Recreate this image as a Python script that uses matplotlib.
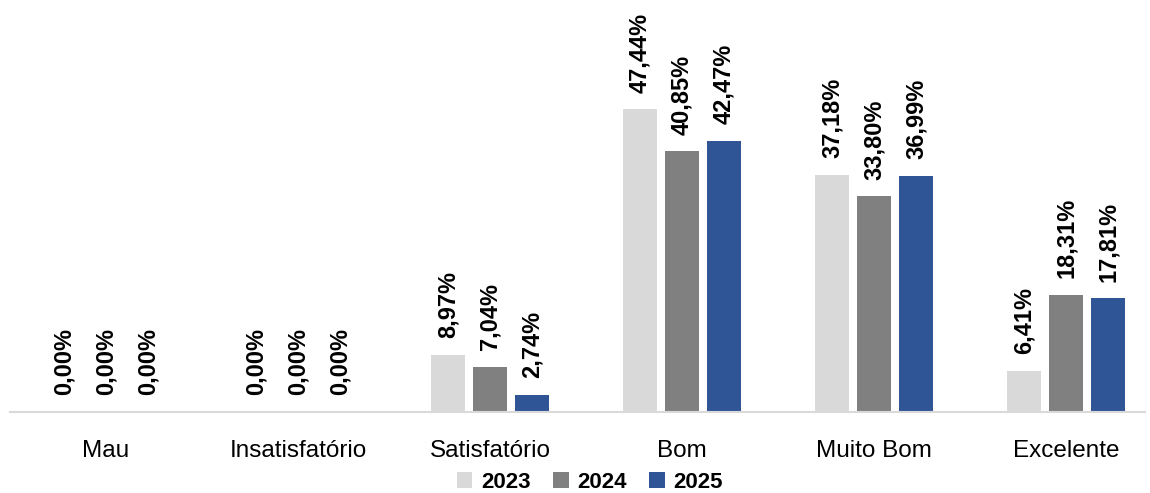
import numpy as np
from matplotlib import pyplot as plt

plt.rcParams['font.family'] = ['Liberation Sans', 'DejaVu Sans']

categories = ['Mau', 'Insatisfatório', 'Satisfatório', 'Bom', 'Muito Bom', 'Excelente']
years = ['2023', '2024', '2025']
v2023 = [0.00, 0.00, 8.97, 47.44, 37.18, 6.41]
v2024 = [0.00, 0.00, 7.04, 40.85, 33.80, 18.31]
v2025 = [0.00, 0.00, 2.74, 42.47, 36.99, 17.81]
colors = ['#D9D9D9', '#808080', '#2F5597']

W, H = 1150, 493
fig = plt.figure(figsize=(W / 100, H / 100), dpi=100)
# axes: left 10px, right 1145px, baseline at y=412px
ax = fig.add_axes([10 / W, (H - 412) / H, 1135 / W, 383 / H])

x = np.arange(len(categories))
bw = 34 / 192
step = 42 / 192
for k, (vals, yr) in enumerate(zip([v2023, v2024, v2025], years)):
    pos = x + (k - 1) * step
    ax.bar(pos, vals, width=bw, color=colors[k], label=yr, zorder=2)
    for p, v in zip(pos, vals):
        ax.annotate(f'{v:.2f}%'.replace('.', ','), (p, v), xytext=(0, 12),
                    textcoords='offset points', rotation=90, ha='center',
                    va='bottom', fontsize=17, fontweight='bold', annotation_clip=False)

ax.set_xlim(-0.5, (1145 - 106) / 192)
ax.set_ylim(0, 60)
for s in ['top', 'right', 'left']:
    ax.spines[s].set_visible(False)
ax.spines['bottom'].set_color('#D9D9D9')
ax.spines['bottom'].set_linewidth(1.5)
ax.set_yticks([])
ax.set_xticks(x)
ax.set_xticklabels(categories, fontsize=17.5)
ax.tick_params(axis='x', length=0, pad=20)

leg = fig.legend(loc='center', bbox_to_anchor=(590 / W, (H - 482) / H), ncol=3,
                 frameon=False, prop={'size': 16, 'weight': 'bold'},
                 handlelength=0.7, handleheight=0.7, handletextpad=0.4,
                 columnspacing=1.0)

fig.savefig('out.png', dpi=100)
